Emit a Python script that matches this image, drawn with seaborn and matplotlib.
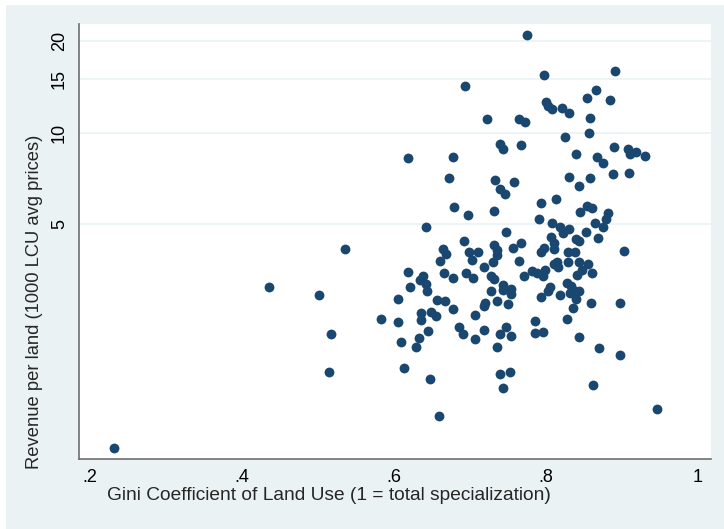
import matplotlib
matplotlib.use("Agg")
import matplotlib.pyplot as plt
import seaborn as sns
import pandas as pd
from matplotlib.patches import Rectangle
from matplotlib.ticker import NullLocator

# Gini coefficient of land use (x) and revenue per land, 1000 LCU (y)
gini = [0.775, 0.797, 0.891, 0.693, 0.866, 0.854, 0.884, 0.800, 0.803, 0.808,
        0.821, 0.830, 0.858, 0.722, 0.764, 0.772, 0.825, 0.857, 0.740, 0.744,
        0.767, 0.889, 0.908, 0.911, 0.918, 0.930, 0.839, 0.867, 0.875, 0.619,
        0.678, 0.672, 0.733, 0.758, 0.740, 0.746, 0.830, 0.858, 0.844, 0.888,
        0.909, 0.793, 0.813, 0.679, 0.697, 0.732, 0.845, 0.854, 0.860, 0.882,
        0.791, 0.879, 0.875, 0.864, 0.852, 0.869, 0.642, 0.748, 0.808, 0.818,
        0.830, 0.823, 0.840, 0.843, 0.806, 0.810, 0.811, 0.798, 0.793, 0.767,
        0.756, 0.731, 0.735, 0.735, 0.730, 0.719, 0.692, 0.665, 0.669, 0.660,
        0.699, 0.711, 0.702, 0.765, 0.771, 0.781, 0.788, 0.796, 0.799, 0.814,
        0.816, 0.811, 0.829, 0.838, 0.829, 0.844, 0.855, 0.848, 0.841, 0.860,
        0.903, 0.618, 0.638, 0.634, 0.642, 0.644, 0.621, 0.666, 0.677, 0.695,
        0.704, 0.728, 0.732, 0.744, 0.754, 0.743, 0.754, 0.727, 0.736, 0.750,
        0.720, 0.719, 0.677, 0.667, 0.657, 0.605, 0.636, 0.649, 0.655, 0.636,
        0.583, 0.605, 0.707, 0.685, 0.691, 0.706, 0.719, 0.740, 0.748, 0.754,
        0.736, 0.785, 0.786, 0.796, 0.827, 0.836, 0.859, 0.898, 0.843, 0.870,
        0.898, 0.613, 0.647, 0.609, 0.633, 0.629, 0.645, 0.740, 0.752, 0.743,
        0.862, 0.659, 0.946, 0.805, 0.803, 0.793, 0.819, 0.827, 0.833, 0.836,
        0.843, 0.840, 0.832, 0.232, 0.436, 0.501, 0.536, 0.517, 0.515]
revenue = [20.9, 15.5, 15.9, 14.2, 13.8, 13.0, 12.8, 12.6, 12.2, 11.95,
           12.0, 11.6, 11.2, 11.05, 11.05, 10.8, 9.7, 9.94, 9.19, 8.84,
           9.08, 8.96, 8.80, 8.50, 8.61, 8.39, 8.48, 8.32, 7.96, 8.22,
           8.32, 7.10, 6.98, 6.87, 6.51, 6.28, 7.14, 7.09, 6.68, 7.32,
           7.38, 5.85, 6.03, 5.67, 5.37, 5.53, 5.48, 5.73, 5.63, 5.42,
           5.18, 5.18, 4.90, 5.05, 4.70, 4.51, 4.88, 4.72, 5.03, 4.90,
           4.80, 4.66, 4.46, 4.40, 4.53, 4.33, 4.14, 4.17, 4.05, 4.32,
           4.16, 4.28, 4.11, 3.94, 3.74, 3.61, 4.41, 4.15, 3.97, 3.77,
           4.05, 4.05, 3.80, 3.78, 3.36, 3.51, 3.46, 3.37, 3.54, 3.76,
           3.62, 3.69, 4.03, 4.04, 3.74, 3.74, 3.69, 3.54, 3.41, 3.46,
           4.08, 3.48, 3.37, 3.27, 3.17, 3.00, 3.11, 3.45, 3.31, 3.46,
           3.33, 3.37, 3.29, 3.16, 3.05, 3.04, 2.94, 3.01, 2.78, 2.73,
           2.74, 2.69, 2.63, 2.79, 2.82, 2.83, 2.54, 2.56, 2.49, 2.42,
           2.44, 2.38, 2.51, 2.29, 2.17, 2.10, 2.24, 2.17, 2.30, 2.14,
           1.97, 2.40, 2.19, 2.20, 2.43, 2.64, 2.74, 2.74, 2.13, 1.95,
           1.86, 1.68, 1.55, 2.04, 2.11, 1.97, 2.23, 1.61, 1.63, 1.44,
           1.48, 1.17, 1.23, 3.11, 3.01, 2.88, 2.92, 3.21, 3.12, 3.03,
           3.01, 2.83, 2.96, 0.915, 3.11, 2.92, 4.14, 2.18, 1.63]

y_ticks = [5, 10, 15, 20]
x_ticks = [0.2, 0.4, 0.6, 0.8, 1.0]
x_ticklabels = [".2", ".4", ".6", ".8", "1"]

df = pd.DataFrame({"gini": gini, "revenue": revenue})

sns.set_style("white")
plt.rcParams["font.family"] = ["Liberation Sans", "DejaVu Sans"]

bg = "#eaf2f3"
navy = "#1a476f"
axis_col = "#6e6e6e"

fig = plt.figure(figsize=(7.24, 5.29), dpi=100)
fig.patch.set_facecolor("white")
# light stata-like graph region behind the axes
fig.patches.append(Rectangle((6 / 724, 0), 1, 1 - 5 / 529, transform=fig.transFigure,
                             facecolor=bg, edgecolor="none", zorder=-10))

ax = fig.add_axes([79 / 724, 1 - 459 / 529, 632 / 724, 435 / 529])
ax.set_facecolor("white")

sns.scatterplot(data=df, x="gini", y="revenue", ax=ax, color=navy, s=50,
                linewidth=0, zorder=3)

ax.set_yscale("log")
ax.set_xlim(0.1855, 1.0171)
ax.set_ylim(0.843, 22.75)

ax.set_yticks(y_ticks)
ax.set_yticklabels([str(t) for t in y_ticks], rotation=90, va="center")
ax.yaxis.set_minor_locator(NullLocator())
ax.set_xticks(x_ticks)
ax.set_xticklabels(x_ticklabels)

ax.grid(axis="y", color=bg, linewidth=1.2, zorder=0)
ax.grid(axis="x", visible=False)

for side in ["top", "right"]:
    ax.spines[side].set_visible(False)
for side in ["left", "bottom"]:
    ax.spines[side].set_color(axis_col)
    ax.spines[side].set_linewidth(1.2)

ax.tick_params(axis="both", direction="out", length=5, width=1, color=axis_col,
               labelsize=13, labelcolor="black")
ax.tick_params(axis="y", pad=3)
ax.tick_params(axis="x", pad=2)

ax.set_xlabel("Gini Coefficient of Land Use (1 = total specialization)", fontsize=13.8)
ax.set_ylabel("Revenue per land (1000 LCU avg prices)", fontsize=13.2)
ax.xaxis.set_label_coords((329 - 79) / 632, (459 - 495) / 435)
ax.xaxis.label.set_va("center")
ax.yaxis.set_label_coords((35 - 79) / 632, (459 - 302) / 435)
ax.yaxis.label.set_va("center")

fig.savefig("out.png", dpi=100, facecolor=fig.get_facecolor())
